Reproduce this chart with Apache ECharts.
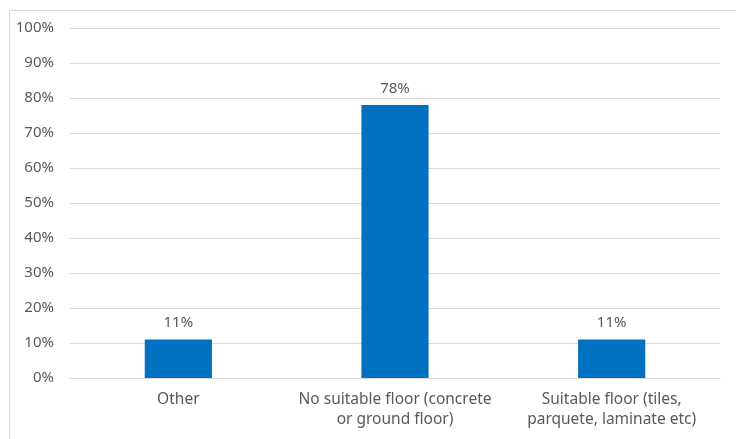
<!DOCTYPE html>
<html><head><meta charset="utf-8">
<script src="https://cdn.jsdelivr.net/npm/echarts@6/dist/echarts.min.js"></script>
<style>html,body{margin:0;padding:0;background:#fff}#c{width:736px;height:439px}</style>
</head><body><div id="c"></div>
<script>
var categories = ["Other", "No suitable floor (concrete\nor ground floor)", "Suitable floor (tiles,\nparquete, laminate etc)"];
var values = [11, 78, 11];
var yTicks = [0, 10, 20, 30, 40, 50, 60, 70, 80, 90, 100];

var chart = echarts.init(document.getElementById('c'));
var font = '"Noto Sans", "Open Sans", sans-serif';
chart.setOption({
  animation: false,
  graphic: [{type: 'rect', shape: {x: 9.5, y: 10.5, width: 740, height: 440}, style: {fill: 'none', stroke: '#d9d9d9', lineWidth: 1}, silent: true}],
  grid: {left: 70, right: 16, top: 28, bottom: 61},
  xAxis: {
    type: 'category', data: categories,
    axisLine: {lineStyle: {color: '#d9d9d9'}},
    axisTick: {show: false},
    axisLabel: {color: '#595959', fontSize: 15.5, fontFamily: font, lineHeight: 20, margin: 12, interval: 0}
  },
  yAxis: {
    type: 'value', min: 0, max: 100, interval: 10,
    axisLine: {show: false}, axisTick: {show: false},
    splitLine: {lineStyle: {color: '#d9d9d9'}},
    axisLabel: {color: '#595959', fontSize: 15, fontFamily: font, margin: 16,
      formatter: function (v) { return yTicks.indexOf(v) >= 0 ? v + '%' : ''; }}
  },
  series: [{
    type: 'bar', data: values, barWidth: '31%',
    itemStyle: {color: '#0070C0'},
    label: {show: true, position: 'top', distance: 9, color: '#595959', fontSize: 15, fontFamily: font, formatter: '{c}%'}
  }]
});
</script></body></html>
